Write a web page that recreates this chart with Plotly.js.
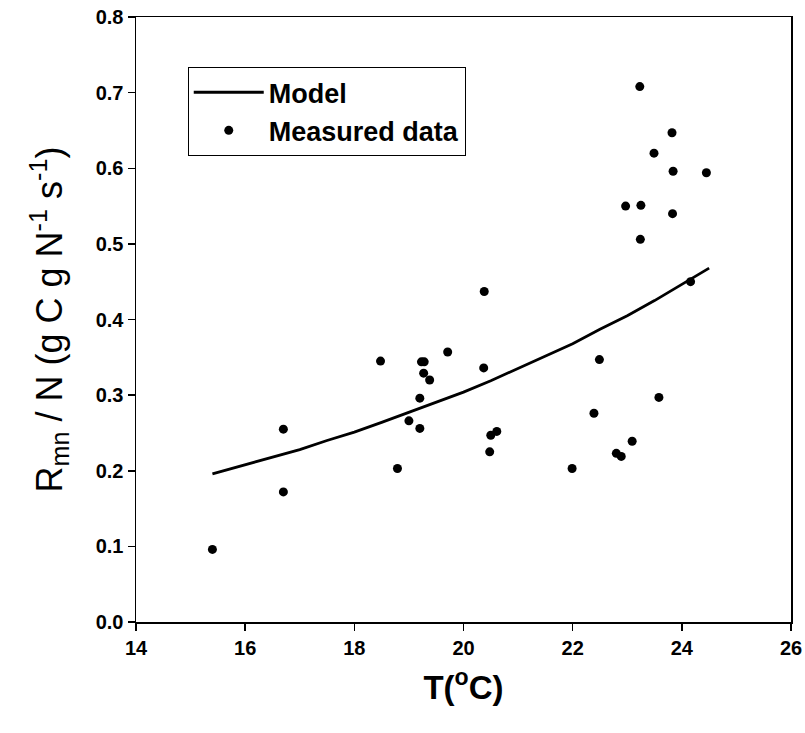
<!DOCTYPE html>
<html>
<head>
<meta charset="utf-8">
<script src="https://cdn.plot.ly/plotly-3.0.1.min.js"></script>
<style>html,body{margin:0;padding:0;background:#fff;}#chart{width:805px;height:733px;}</style>
</head>
<body>
<div id="chart"></div>
<script>
// Measured data
const measuredT = [15.40, 16.70, 16.70, 18.48, 18.79, 19.00, 19.20, 19.20, 19.27, 19.23, 19.28, 19.38, 19.71,
  20.37, 20.38, 20.48, 20.50, 20.61, 21.99, 22.49, 22.39, 22.80, 22.89, 23.09, 23.58, 23.23, 23.82,
  23.49, 23.84, 24.45, 22.97, 23.25, 23.83, 23.24, 24.16];
const measuredR = [0.096, 0.255, 0.172, 0.345, 0.203, 0.266, 0.256, 0.296, 0.329, 0.344, 0.344, 0.320, 0.357,
  0.336, 0.437, 0.225, 0.247, 0.252, 0.203, 0.347, 0.276, 0.223, 0.219, 0.239, 0.297, 0.708, 0.647,
  0.620, 0.596, 0.594, 0.550, 0.551, 0.540, 0.506, 0.450];
// Model curve
const modelT = [15.4, 16.0, 16.5, 17.0, 17.5, 18.0, 18.5, 19.0, 19.5, 20.0, 20.5, 21.0, 21.5, 22.0, 22.5, 23.0, 23.5, 24.0, 24.5];
const modelR = [0.196, 0.208, 0.218, 0.228, 0.240, 0.251, 0.264, 0.277, 0.290, 0.304, 0.319, 0.335, 0.351, 0.368, 0.387, 0.405, 0.425, 0.446, 0.468];
const xTicks = [14, 16, 18, 20, 22, 24, 26];
const yTicks = [0.0, 0.1, 0.2, 0.3, 0.4, 0.5, 0.6, 0.7, 0.8];

const FONT = 'Liberation Sans, Arial, sans-serif';

const traces = [
  {x: modelT, y: modelR, mode: 'lines', name: 'Model', line: {color: '#000', width: 2.8}},
  {x: measuredT, y: measuredR, mode: 'markers', name: 'Measured data', marker: {color: '#000', size: 9}}
];

const layout = {
  width: 805, height: 733,
  margin: {l: 136, r: 14, t: 17, b: 111},
  paper_bgcolor: '#fff', plot_bgcolor: '#fff',
  font: {family: FONT, color: '#000'},
  xaxis: {
    range: [14, 26], tickvals: xTicks, ticktext: xTicks.map(String),
    showgrid: false, zeroline: false, showline: true, linecolor: '#000', linewidth: 1.5, mirror: true,
    ticks: 'outside', ticklen: 7, tickwidth: 1.5, tickcolor: '#000',
    tickfont: {family: FONT, size: 20, weight: 'bold', color: '#000'},
    title: {text: 'T(<sup>o</sup>C)', font: {family: FONT, size: 33, weight: 'bold', color: '#000'}, standoff: 18}
  },
  yaxis: {
    range: [0, 0.8], tickvals: yTicks, ticktext: yTicks.map(v => v.toFixed(1)),
    showgrid: false, zeroline: false, showline: true, linecolor: '#000', linewidth: 1.5, mirror: true,
    ticks: 'outside', ticklen: 7, tickwidth: 1.5, tickcolor: '#000',
    tickfont: {family: FONT, size: 20, weight: 'bold', color: '#000'},
    title: {text: 'R<sub>mn</sub> / N (g C g N<sup>-1</sup> s<sup>-1</sup>)', font: {family: FONT, size: 36, color: '#000'}, standoff: 22}
  },
  showlegend: true,
  legend: {
    x: 0.079, y: 0.917, xanchor: 'left', yanchor: 'top',
    bgcolor: '#fff', bordercolor: '#000', borderwidth: 1,
    font: {family: FONT, size: 27, weight: 'bold', color: '#000'},
    itemwidth: 70, tracegroupgap: 0
  }
};

Plotly.newPlot('chart', traces, layout, {displayModeBar: false, staticPlot: true});
</script>
</body>
</html>
